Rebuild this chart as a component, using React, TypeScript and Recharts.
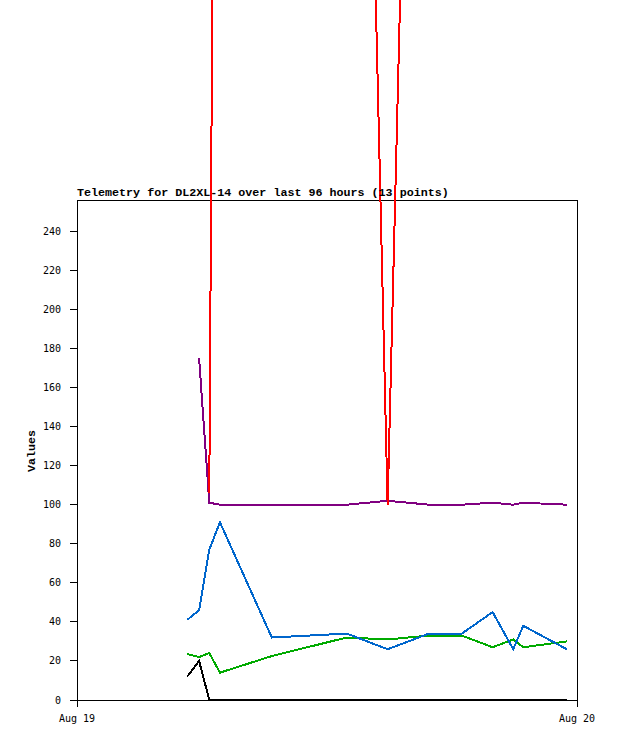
import React from "react";
import { LineChart, Line, XAxis, YAxis, ReferenceArea } from "recharts";

// hours after Aug 19 00:00
const hours = [5.29, 5.86, 6.35, 6.86, 9.35, 12.95, 14.91, 16.9, 18.47, 19.95, 20.94, 21.42, 23.51];

const redValues = [null, null, 106, 1000, 1000, 990, 100, 960, 1000, 1000, 1000, 1000, 1000];
const purpleValues = [null, 175, 101, 100, 100, 100, 102, 100, 100, 101, 100, 101, 100];
const blueValues = [41, 46, 77, 91, 32, 34, 26, 34, 34, 45, 26, 38, 26];
const greenValues = [23.5, 22, 24, 14, 22.5, 32, 31, 33, 33, 27, 31, 27, 30];
const blackValues = [12, 20, 0, 0, 0, 0, 0, 0, 0, 0, 0, 0, 0];

const yTicks = [0, 20, 40, 60, 80, 100, 120, 140, 160, 180, 200, 220, 240];
const xTicks = [0, 24];
const xTickLabels = ["Aug 19", "Aug 20"];

const title = "Telemetry for DL2XL-14 over last 96 hours (13 points)";

const data = hours.map((t, i) => ({
  t,
  red: redValues[i],
  purple: purpleValues[i],
  blue: blueValues[i],
  green: greenValues[i],
  black: blackValues[i],
}));

const tickStyle = { fontSize: 10, fontFamily: "DejaVu Sans Mono", fill: "#000" };
const labelFont = { fontSize: 11.7, fontFamily: "Liberation Mono", fontWeight: "bold" as const };

export default function App() {
  return (
    <div style={{ position: "absolute", left: 0, top: 0, width: 618, height: 741 }}>
      <style>{`[clip-path] { clip-path: none !important; }`}</style>
      <LineChart width={618} height={741} data={data} margin={{ top: 200, right: 41, bottom: 0, left: 0 }}>
        <XAxis
          dataKey="t"
          type="number"
          domain={[0, 24]}
          ticks={xTicks}
          tickFormatter={(v: number) => xTickLabels[xTicks.indexOf(v)]}
          height={41}
          tickSize={7}
          tickMargin={8}
          stroke="#000"
          tick={tickStyle}
          shapeRendering="crispEdges"
        />
        <YAxis
          type="number"
          domain={[0, 256]}
          allowDataOverflow
          ticks={yTicks}
          width={77}
          tickSize={7}
          tickMargin={9}
          stroke="#000"
          tick={tickStyle}
          shapeRendering="crispEdges"
        />
        <ReferenceArea x1={0} x2={24} y1={0} y2={256} fill="none" stroke="#000" strokeWidth={1} shapeRendering="crispEdges" />
        <Line type="linear" dataKey="black" stroke="#000000" strokeWidth={2} dot={false} isAnimationActive={false} shapeRendering="crispEdges" />
        <Line type="linear" dataKey="green" stroke="#00aa00" strokeWidth={2} dot={false} isAnimationActive={false} shapeRendering="crispEdges" />
        <Line type="linear" dataKey="blue" stroke="#0066cc" strokeWidth={2} dot={false} isAnimationActive={false} shapeRendering="crispEdges" />
        <Line type="linear" dataKey="purple" stroke="#800080" strokeWidth={2} dot={false} isAnimationActive={false} shapeRendering="crispEdges" />
        <Line type="linear" dataKey="red" stroke="#ff0000" strokeWidth={2} dot={false} isAnimationActive={false} shapeRendering="crispEdges" />
      </LineChart>
      <svg width={618} height={741} style={{ position: "absolute", left: 0, top: 0, pointerEvents: "none" }}>
        <text x={77} y={196} {...labelFont} fill="#000">{title}</text>
        <text transform="translate(35,451) rotate(-90)" textAnchor="middle" {...labelFont} fill="#000">Values</text>
      </svg>
    </div>
  );
}
